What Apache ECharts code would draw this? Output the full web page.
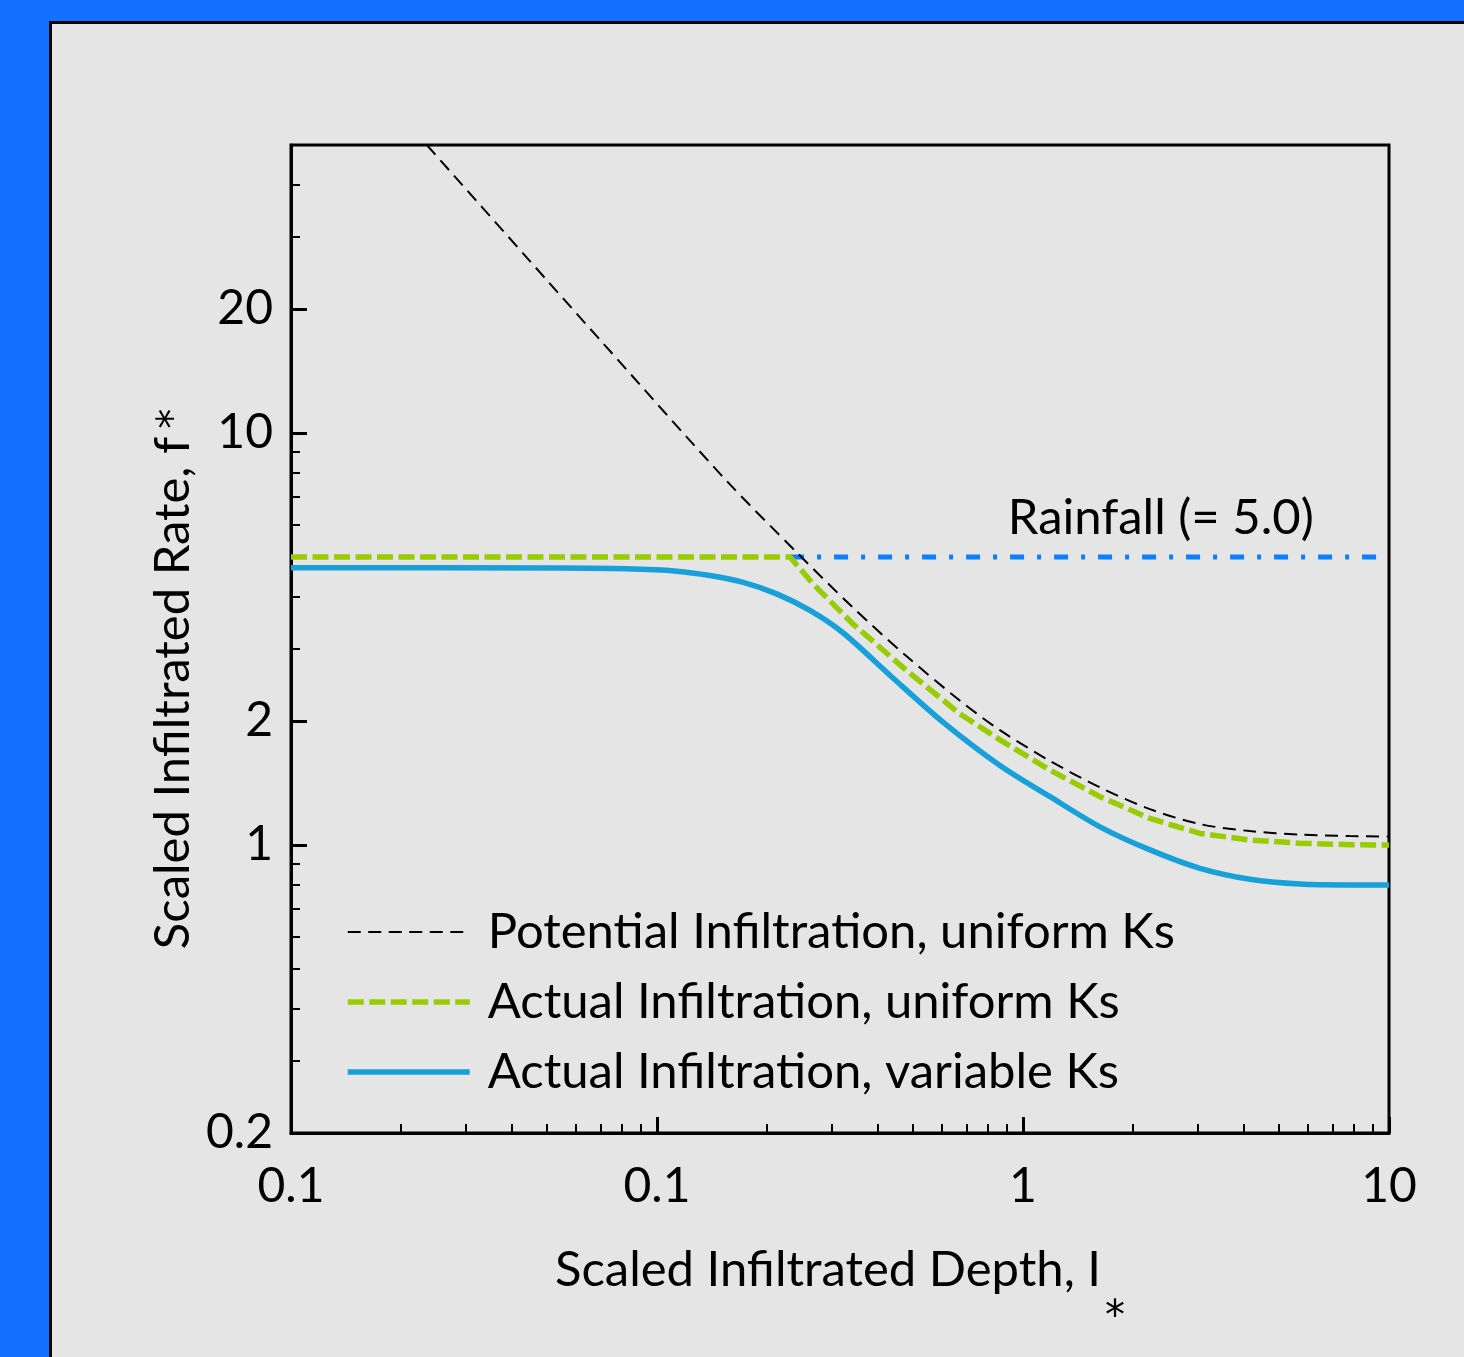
<!DOCTYPE html>
<html>
<head>
<meta charset="utf-8">
<script src="https://cdn.jsdelivr.net/npm/echarts@6/dist/echarts.min.js"></script>
<style>
  html, body { margin: 0; padding: 0; width: 1464px; height: 1357px; overflow: hidden; background: #1470ff; }
  .panel { position: absolute; left: 49px; top: 21px; width: 1430px; height: 1350px; background: #e5e5e5; border-left: 3px solid #000; border-top: 3px solid #000; }
  #main { position: absolute; left: 0; top: 0; width: 1464px; height: 1357px; }
</style>
</head>
<body>
<div class="panel"></div>
<div id="main"></div>
<script>
// scaled infiltrated depth I* (x) and scaled infiltration rate f* (y)
const potentialI = [0.0235, 0.05, 0.07, 0.155, 0.241, 0.343, 0.481, 0.673, 0.865, 1.185, 1.623, 2.223, 3.045, 4.171, 5.713, 7.824, 10]
const potentialF = [50, 23.5, 16.8, 7.65, 5.13, 3.77, 2.87, 2.24, 1.90, 1.60, 1.38, 1.222, 1.124, 1.081, 1.060, 1.051, 1.049]

const actualUniI = [0.01, 0.231, 0.267, 0.343, 0.481, 0.673, 0.865, 1.185, 1.623, 2.223, 3.045, 4.171, 5.713, 7.824, 10]
const actualUniF = [5.0, 5.0, 4.30, 3.44, 2.65, 2.08, 1.80, 1.52, 1.31, 1.16, 1.067, 1.028, 1.01, 1.002, 1.0]

const actualVarI = [0.01, 0.0543, 0.0826, 0.1132, 0.1396, 0.1721, 0.2123, 0.2618, 0.3228, 0.442, 0.6055, 0.865, 1.185, 1.623, 2.223, 3.045, 4.171, 5.713, 7.824, 10]
const actualVarF = [4.71, 4.70, 4.68, 4.62, 4.51, 4.34, 4.07, 3.71, 3.27, 2.54, 1.985, 1.56, 1.31, 1.107, 0.973, 0.878, 0.826, 0.804, 0.80, 0.80]

const rainI = [0.231, 10]
const rainF = [5.0, 5.0]
const rainLabelAt = [2.38, 5.0]

// axis ticks and their labels (labels as printed in the figure)
const xMajor = [0.01, 0.1, 1, 10]
const xMajorLabels = ['0.1', '0.1', '1', '10']
const xMinor = [0.02, 0.03, 0.04, 0.05, 0.06, 0.07, 0.08, 0.09, 0.2, 0.3, 0.4, 0.5, 0.6, 0.7, 0.8, 0.9, 2, 3, 4, 5, 6, 7, 8, 9]
const yMajor = [0.2, 1, 2, 10, 20]
const yMajorLabels = ['0.2', '1', '2', '10', '20']
const yMinor = [0.3, 0.4, 0.5, 0.6, 0.7, 0.8, 0.9, 3, 4, 5, 6, 7, 8, 9, 30, 40]

const names = ['Potential Infiltration, uniform Ks', 'Actual Infiltration, uniform Ks', 'Actual Infiltration, variable Ks']

function pairs (xs, ys) {
  return xs.map(function (x, i) { return [x, ys[i]] })
}
function labelFor (ticks, labels) {
  return function (value) {
    let best = 0
    ticks.forEach(function (t, i) {
      if (Math.abs(Math.log10(t) - Math.log10(value)) < Math.abs(Math.log10(ticks[best]) - Math.log10(value))) best = i
    })
    return labels[best]
  }
}

const font = 'Lato'
const starFont = 'DejaVu Sans'
const ink = '#000'
const textSize = 49

var myChart = echarts.init(document.getElementById('main'), null, { renderer: 'canvas' })

var option = {
  animation: false,
  backgroundColor: 'transparent',
  textStyle: { fontFamily: font },
  grid: {
    left: 291,
    top: 145,
    width: 1098,
    height: 988,
    show: true,
    borderColor: ink,
    borderWidth: 3,
    backgroundColor: 'transparent'
  },
  legend: {
    data: names.map(function (n) {
      return { name: n, itemStyle: { opacity: 0, color: 'transparent', borderWidth: 0 } }
    }),
    orient: 'vertical',
    left: 345,
    top: 907,
    padding: 0,
    itemGap: 20,
    itemWidth: 122,
    itemHeight: 14,
    lineStyle: { width: 'inherit', type: 'inherit' },
    textStyle: {
      fontFamily: font,
      fontSize: textSize,
      lineHeight: 50,
      color: ink,
      padding: [0, 0, 0, 13]
    }
  },
  xAxis: [
    {
      type: 'log',
      logBase: 10,
      min: 0.01,
      max: 10,
      position: 'bottom',
      name: '{a|Scaled Infiltrated Depth, I}{s|*}',
      nameLocation: 'middle',
      nameGap: 109,
      nameMoveOverlap: false,
      nameTextStyle: {
        rich: {
          a: { fontFamily: font, fontSize: textSize, lineHeight: 56, color: ink },
          s: { fontFamily: starFont, fontSize: 40, lineHeight: 40, color: ink, padding: [98, 0, 0, 4] }
        }
      },
      axisLine: { show: true, onZero: false, lineStyle: { color: ink, width: 3 } },
      axisTick: { show: true, inside: true, length: 16, lineStyle: { color: ink, width: 3 }, customValues: xMajor },
      axisLabel: {
        customValues: xMajor,
        margin: 30,
        fontFamily: font,
        fontSize: 48,
        color: ink,
        formatter: labelFor(xMajor, xMajorLabels)
      },
      splitLine: { show: false }
    },
    {
      type: 'log',
      logBase: 10,
      min: 0.01,
      max: 10,
      position: 'bottom',
      axisLine: { show: false },
      axisTick: { show: true, inside: true, length: 9, lineStyle: { color: ink, width: 2 }, customValues: xMinor },
      axisLabel: { show: false },
      splitLine: { show: false }
    }
  ],
  yAxis: [
    {
      type: 'log',
      logBase: 10,
      min: 0.2,
      max: 50,
      position: 'left',
      name: '{a|Scaled Infiltrated Rate, f}{s|*}',
      nameLocation: 'middle',
      nameRotate: 90,
      nameGap: 90,
      nameMoveOverlap: false,
      nameTextStyle: {
        padding: [0, 80, 0, 0],
        rich: {
          a: { fontFamily: font, fontSize: textSize, lineHeight: 56, color: ink },
          s: { fontFamily: starFont, fontSize: 40, lineHeight: 40, color: ink, padding: [6, 0, 0, 8] }
        }
      },
      axisLine: { show: true, onZero: false, lineStyle: { color: ink, width: 3 } },
      axisTick: { show: true, inside: true, length: 16, lineStyle: { color: ink, width: 3 }, customValues: yMajor },
      axisLabel: {
        customValues: yMajor,
        margin: 18,
        fontFamily: font,
        fontSize: 48,
        color: ink,
        formatter: labelFor(yMajor, yMajorLabels)
      },
      splitLine: { show: false }
    },
    {
      type: 'log',
      logBase: 10,
      min: 0.2,
      max: 50,
      position: 'left',
      axisLine: { show: false },
      axisTick: { show: true, inside: true, length: 9, lineStyle: { color: ink, width: 2 }, customValues: yMinor },
      axisLabel: { show: false },
      splitLine: { show: false }
    }
  ],
  series: [
    {
      name: names[2],
      type: 'line',
      xAxisIndex: 0,
      yAxisIndex: 0,
      smooth: 0.3,
      symbol: 'none',
      lineStyle: { color: '#18a0d8', width: 5.5, type: 'solid' },
      itemStyle: { color: '#18a0d8' },
      data: pairs(actualVarI, actualVarF)
    },
    {
      name: 'Rainfall',
      type: 'line',
      xAxisIndex: 0,
      yAxisIndex: 0,
      symbol: 'none',
      lineStyle: { color: '#0a80ff', width: 5, type: [14, 13, 4, 13] },
      itemStyle: { color: '#0a80ff' },
      data: pairs(rainI, rainF)
    },
    {
      name: names[1],
      type: 'line',
      xAxisIndex: 0,
      yAxisIndex: 0,
      symbol: 'none',
      lineStyle: { color: '#99cc00', width: 5.5, type: [16, 5.5] },
      itemStyle: { color: '#99cc00' },
      data: pairs(actualUniI, actualUniF)
    },
    {
      name: names[0],
      type: 'line',
      xAxisIndex: 0,
      yAxisIndex: 0,
      smooth: 0.3,
      symbol: 'none',
      lineStyle: { color: ink, width: 2, type: [13, 7.5] },
      itemStyle: { color: ink },
      data: pairs(potentialI, potentialF)
    },
    {
      name: 'rain label',
      type: 'scatter',
      xAxisIndex: 0,
      yAxisIndex: 0,
      silent: true,
      symbolSize: 1,
      itemStyle: { color: 'transparent', opacity: 1 },
      label: {
        show: true,
        position: 'inside',
        offset: [0, -39],
        formatter: 'Rainfall (= 5.0)',
        fontFamily: font,
        fontSize: textSize,
        color: ink,
        opacity: 1
      },
      data: [rainLabelAt]
    }
  ]
}

myChart.setOption(option)
</script>
</body>
</html>
